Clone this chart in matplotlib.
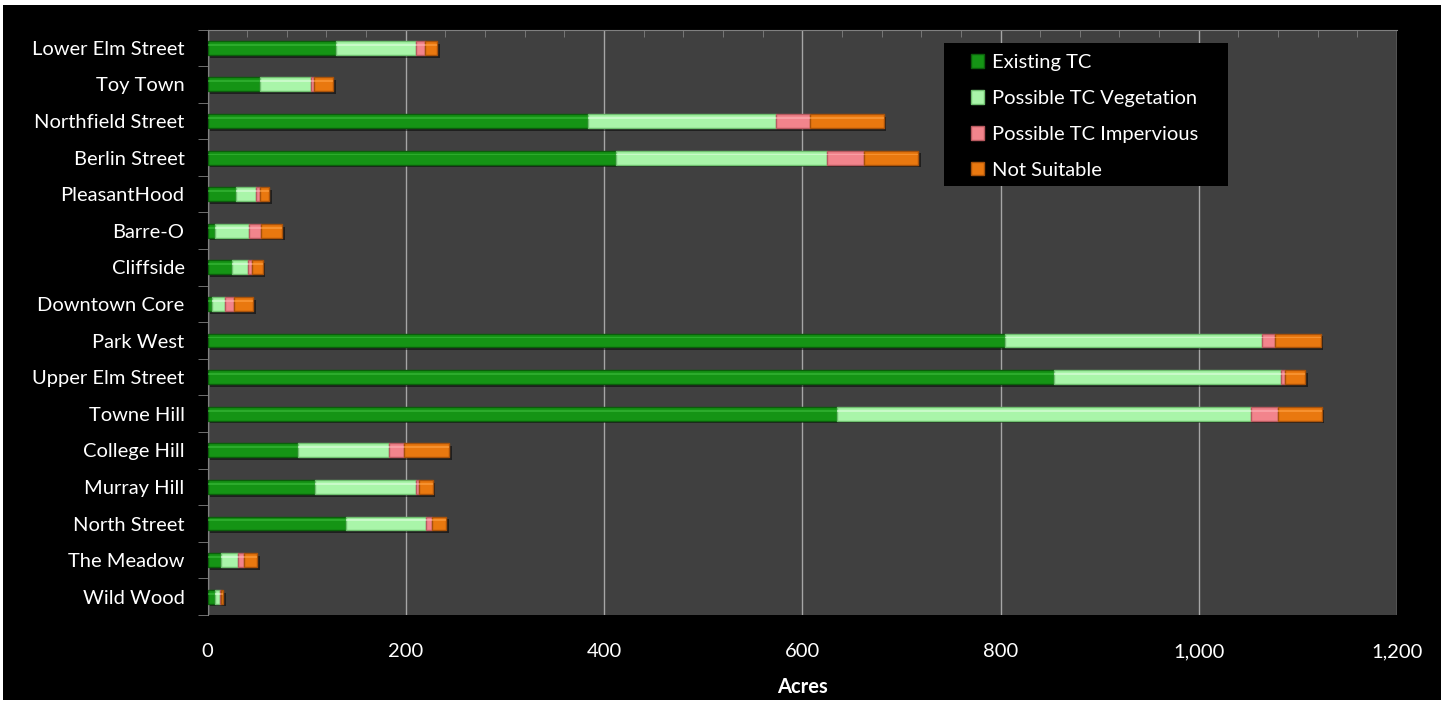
import matplotlib
matplotlib.use("Agg")
import matplotlib.pyplot as plt
import matplotlib.patheffects as pe
from matplotlib.patches import Rectangle
from matplotlib.ticker import FuncFormatter, MultipleLocator
import numpy as np

neighborhoods = ["Lower Elm Street", "Toy Town", "Northfield Street", "Berlin Street",
                 "PleasantHood", "Barre-O", "Cliffside", "Downtown Core", "Park West",
                 "Upper Elm Street", "Towne Hill", "College Hill", "Murray Hill",
                 "North Street", "The Meadow", "Wild Wood"]
existing_tc = [130, 53, 384, 412, 29, 8, 25, 5, 805, 854, 635, 91, 108, 140, 14, 8]
possible_veg = [80, 51, 190, 213, 20, 34, 16, 13, 259, 229, 418, 92, 102, 80, 17, 5]
possible_imp = [9, 3, 34, 37, 4, 12, 3.5, 9, 13, 4, 27, 15, 3, 6, 6, 0.6]
not_suitable = [13, 20, 74, 55, 9, 21, 11, 19, 46, 20, 44, 46, 14, 15, 13, 2]
series_names = ["Existing TC", "Possible TC Vegetation", "Possible TC Impervious", "Not Suitable"]
x_ticks = [0, 200, 400, 600, 800, 1000, 1200]

face_colors = ["#159415", "#a9f5a9", "#f2848c", "#e9780f"]
edge_colors = ["#0b5e0b", "#6fbf6f", "#b85a60", "#a8520a"]
hi_colors = ["#3cbc3c", "#e0ffe0", "#ffb0b5", "#ffa346"]

plt.rcParams['font.family'] = ['Lato', 'DejaVu Sans']
FS = 14.5

W, H = 1448, 705
AX_L, AX_R, AX_T, AX_B = 207.5, 1397, 29.5, 615

fig = plt.figure(figsize=(W / 100, H / 100), dpi=100, facecolor="white")
fig.patches.append(Rectangle((3 / W, 5 / H), 1438 / W, 695 / H, transform=fig.transFigure,
                             facecolor="black", edgecolor="none", zorder=-10))
ax = fig.add_axes([AX_L / W, 1 - AX_B / H, (AX_R - AX_L) / W, (AX_B - AX_T) / H])
ax.set_facecolor("#404040")


def ax_frac(px, py):
    return (px - AX_L) / (AX_R - AX_L), 1 - (py - AX_T) / (AX_B - AX_T)


y = np.arange(len(neighborhoods))
left = np.zeros(len(neighborhoods))
data = [existing_tc, possible_veg, possible_imp, not_suitable]
handles = []
h = 0.38
for vals, fc, ec, hc, name in zip(data, face_colors, edge_colors, hi_colors, series_names):
    vals = np.array(vals, dtype=float)
    ax.barh(y, vals, left=left, height=h, color=fc, edgecolor=ec, linewidth=1.0,
            zorder=3, label=name,
            path_effects=[pe.SimplePatchShadow(offset=(2, -2), alpha=0.5, shadow_rgbFace="black"),
                          pe.Normal()])
    # highlight stripe (bevel effect)
    ax.barh(y - h * 0.22, vals, left=left, height=h * 0.14, color=hc, edgecolor="none",
            zorder=4, alpha=0.6)
    handles.append(Rectangle((0, 0), 1, 1, facecolor=fc, edgecolor=ec, linewidth=1.0))
    left = left + vals

ax.set_ylim(len(neighborhoods) - 0.5, -0.5)
ax.set_xlim(0, 1200)
ax.set_yticks(y)
ax.set_yticklabels(neighborhoods)
ax.set_yticks(np.arange(len(neighborhoods) + 1) - 0.5, minor=True)
ax.tick_params(axis='y', which='major', length=0, labelsize=FS, colors="white", pad=16.5)
ax.tick_params(axis='y', which='minor', length=7, color="#808080", direction="out", left=True)

ax.set_xticks(x_ticks)
ax.xaxis.set_major_formatter(FuncFormatter(lambda v, p: f"{int(v):,}"))
ax.xaxis.set_minor_locator(MultipleLocator(40))
ax.tick_params(axis='x', which='major', length=0, labelsize=FS, colors="white", pad=20.5)
ax.tick_params(axis='x', which='minor', bottom=False, top=True, length=5, color="#808080", direction="in")
ax.grid(axis='x', which='major', color="#a6a6a6", linewidth=1.0, zorder=0)
ax.set_axisbelow(True)

for side in ["left", "top"]:
    ax.spines[side].set_color("#808080")
ax.spines["right"].set_visible(False)
ax.spines["bottom"].set_visible(False)

ax.set_xlabel("Acres", color="white", fontsize=FS, fontweight="bold", labelpad=12)

# legend box
bx0, by0 = ax_frac(944, 186)
bx1, by1 = ax_frac(1228, 43)
ax.add_patch(Rectangle((bx0, by0), bx1 - bx0, by1 - by0, transform=ax.transAxes,
                       facecolor="black", edgecolor="none", zorder=5))
leg = ax.legend(handles, series_names, loc="upper left",
                bbox_to_anchor=ax_frac(971, 54),
                frameon=False, fontsize=FS, labelcolor="white",
                handlelength=0.65, handleheight=0.65,
                labelspacing=0.94, borderpad=0, handletextpad=0.4, borderaxespad=0)
leg.set_zorder(6)
for t in leg.get_texts():
    t.set_color("white")

fig.savefig("out.png", dpi=100, facecolor="white")
